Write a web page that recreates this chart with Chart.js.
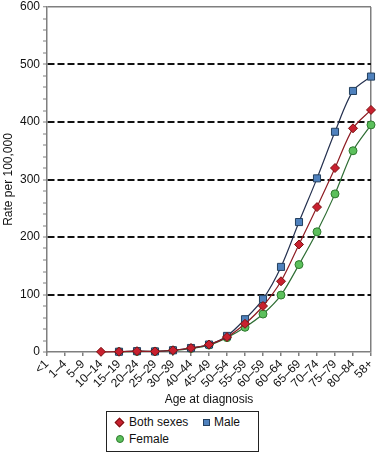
<!DOCTYPE html>
<html>
<head>
<meta charset="utf-8">
<script src="https://cdn.jsdelivr.net/npm/chart.js@4/dist/chart.umd.min.js"></script>
<style>
  html, body { margin: 0; padding: 0; background: #fff; }
  #wrap { position: relative; width: 377px; height: 452px; }
  #legend { position: absolute; left: 106px; top: 411px; width: 151px; height: 39px;
    border: 1px solid #222; background: #fff; font: 12px "Liberation Sans", Arial, sans-serif; color: #111; }
  .it { position: absolute; display: flex; align-items: center; }
  .mk { display: inline-block; margin-right: 4px; box-sizing: border-box; }
</style>
</head>
<body>
<div id="wrap">
  <canvas id="c" width="377" height="452"></canvas>
  <div id="legend">
    <div class="it" style="left:9px;top:3px;"><span class="mk" style="width:7px;height:7px;background:#c8202f;border:1px solid #7a1010;transform:rotate(45deg);margin-right:6px;"></span>Both sexes</div>
    <div class="it" style="left:96px;top:3px;"><span class="mk" style="width:7px;height:7px;background:#4f81bd;border:1px solid #24405f;"></span>Male</div>
    <div class="it" style="left:9px;top:20px;"><span class="mk" style="width:8px;height:8px;background:#5cc05c;border:1px solid #2e7a2e;border-radius:50%;margin-right:5px;"></span>Female</div>
  </div>
</div>
<script>
const categories = ['<1','1–4','5–9','10–14','15–19','20–24','25–29','30–39','40–44','45–49','50–54','55–59','60–59','60–64','65–69','70–74','75–79','80–84','58+'];
const bothSexes = [null,null,null,0.3,0.5,1.5,1,3,7,13,26,49,80,123,187,252,320,389,421];
const male      = [null,null,null,null,0.5,1.5,1,3,7,13,28,57,92,148,226,302,383,454,479];
const female    = [null,null,null,null,0.5,1,1,3,6,12,25,43,66,99,152,209,275,350,395];
const yMajorTicks = [0,100,200,300,400,500,600];

const FONT = '"Liberation Sans", Arial, sans-serif';
const AXIS = '#7f7f7f';

new Chart(document.getElementById('c'), {
  type: 'line',
  data: {
    labels: categories,
    datasets: [
      { label: 'Both sexes', data: bothSexes, borderColor: '#8e1b22', backgroundColor: '#c8202f',
        pointBorderColor: '#7a1010', pointStyle: 'rectRot', pointRadius: 4.5, pointBorderWidth: 1,
        borderWidth: 1.2, tension: 0.3, clip: false },
      { label: 'Male', data: male, borderColor: '#24304f', backgroundColor: '#4f81bd',
        pointBorderColor: '#24405f', pointStyle: 'rect', pointRadius: 5, pointBorderWidth: 1,
        borderWidth: 1.2, tension: 0.3, clip: false },
      { label: 'Female', data: female, borderColor: '#2e6e34', backgroundColor: '#5cc05c',
        pointBorderColor: '#2e7a2e', pointStyle: 'circle', pointRadius: 4, pointBorderWidth: 1,
        borderWidth: 1.2, tension: 0.3, clip: false }
    ]
  },
  options: {
    responsive: false,
    animation: false,
    layout: { padding: { left: 0, right: 5, top: 7, bottom: 45 } },
    plugins: { legend: { display: false }, tooltip: { enabled: false } },
    scales: {
      x: {
        offset: false,
        afterFit: s => { s.height = 55; s.paddingLeft = 0; s.paddingRight = 0; },
        grid: {
          drawOnChartArea: true,
          color: ctx => (ctx.index === categories.length - 1 ? AXIS : 'rgba(0,0,0,0)'),
          tickColor: AXIS, tickLength: 4, lineWidth: 1.5
        },
        border: { color: AXIS, width: 1.5 },
        ticks: { color: '#111', font: { family: FONT, size: 12 }, maxRotation: 45, minRotation: 45,
          autoSkip: false, padding: 1 },
        title: { display: true, text: 'Age at diagnosis', color: '#111',
          font: { family: FONT, size: 12 }, padding: { top: 0, bottom: 0 } }
      },
      y: {
        min: 0, max: 600,
        afterFit: s => { s.width = 47; s.paddingTop = 0; s.paddingBottom = 0; },
        ticks: { stepSize: 20, autoSkip: false, color: '#111', font: { family: FONT, size: 12 }, padding: 3,
          callback: v => (yMajorTicks.includes(v) ? String(v) : '') },
        grid: {
          color: ctx => {
            const v = ctx.tick && ctx.tick.value;
            if (v === 600) return AXIS;
            if (v % 100 === 0 && v > 0) return '#111';
            return 'rgba(0,0,0,0)';
          },
          lineWidth: ctx => (ctx.tick && ctx.tick.value === 600 ? 1.5 : 2),
          tickColor: AXIS, tickLength: 4, tickWidth: 1
        },
        border: { color: AXIS, width: 1.5,
          dash: ctx => (ctx.tick && ctx.tick.value % 100 === 0 && ctx.tick.value < 600 ? [7, 3] : []) },
        title: { display: true, text: 'Rate per 100,000', color: '#111',
          font: { family: FONT, size: 12 }, padding: { top: 1, bottom: 0 } }
      }
    }
  }
});
</script>
</body>
</html>
